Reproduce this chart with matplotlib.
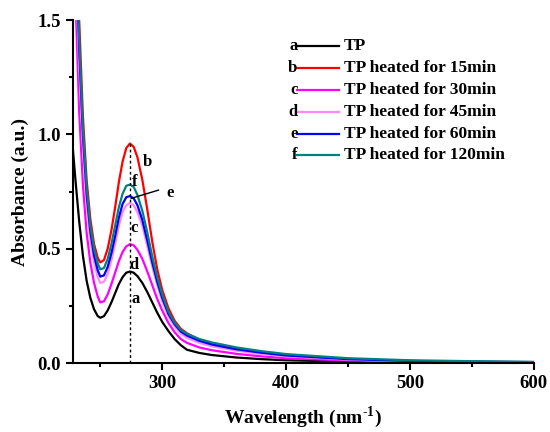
import matplotlib
matplotlib.use("Agg")
import matplotlib.pyplot as plt

plt.rcParams['font.family'] = ['Liberation Serif', 'DejaVu Serif']
plt.rcParams['font.weight'] = 'bold'
plt.rcParams['mathtext.fontset'] = 'custom'
plt.rcParams['mathtext.rm'] = 'Liberation Serif:bold'

# wavelength grid (nm)
wl = [228, 230, 233, 236, 239, 242, 245, 248, 250, 253, 256, 259, 262, 265, 268, 271,
      274, 277, 280, 284, 288, 292, 296, 300, 305, 310, 315, 320, 330, 340, 360, 380,
      400, 450, 500, 550, 600]

tp = [0.93, 0.80, 0.62, 0.47, 0.36, 0.285, 0.235, 0.205, 0.198, 0.205, 0.23, 0.265, 0.305,
      0.345, 0.375, 0.395, 0.40, 0.395, 0.38, 0.35, 0.31, 0.265, 0.22, 0.18, 0.14, 0.105,
      0.078, 0.058, 0.044, 0.035, 0.024, 0.017, 0.012, 0.006, 0.003, 0.002, 0.001]
tp15 = [2.6, 2.1, 1.5, 1.08, 0.80, 0.63, 0.52, 0.46, 0.44, 0.45, 0.50, 0.58, 0.68, 0.79,
        0.88, 0.94, 0.96, 0.945, 0.90, 0.80, 0.67, 0.53, 0.41, 0.32, 0.24, 0.185, 0.15,
        0.13, 0.10, 0.084, 0.062, 0.046, 0.034, 0.017, 0.009, 0.005, 0.003]
tp30 = [2.0, 1.6, 1.1, 0.78, 0.57, 0.44, 0.35, 0.29, 0.265, 0.27, 0.30, 0.345, 0.395,
        0.445, 0.485, 0.51, 0.52, 0.515, 0.495, 0.455, 0.40, 0.34, 0.28, 0.23, 0.175,
        0.135, 0.105, 0.088, 0.068, 0.056, 0.04, 0.029, 0.021, 0.011, 0.006, 0.004, 0.002]
tp45 = [2.2, 1.8, 1.3, 0.95, 0.70, 0.54, 0.44, 0.375, 0.35, 0.355, 0.39, 0.45, 0.52, 0.60,
        0.66, 0.69, 0.70, 0.69, 0.66, 0.60, 0.51, 0.42, 0.34, 0.27, 0.205, 0.16, 0.128,
        0.11, 0.088, 0.073, 0.054, 0.04, 0.029, 0.015, 0.008, 0.005, 0.003]
tp60 = [2.3, 1.9, 1.38, 1.0, 0.74, 0.575, 0.47, 0.405, 0.378, 0.383, 0.42, 0.48, 0.555,
        0.635, 0.695, 0.725, 0.73, 0.72, 0.69, 0.625, 0.535, 0.44, 0.355, 0.285, 0.215,
        0.17, 0.138, 0.12, 0.097, 0.081, 0.06, 0.045, 0.033, 0.017, 0.009, 0.006, 0.004]
tp120 = [2.4, 1.95, 1.42, 1.03, 0.77, 0.60, 0.50, 0.435, 0.41, 0.415, 0.455, 0.52, 0.60,
         0.68, 0.74, 0.775, 0.78, 0.77, 0.735, 0.665, 0.57, 0.465, 0.375, 0.30, 0.225,
         0.177, 0.145, 0.128, 0.105, 0.09, 0.068, 0.052, 0.039, 0.021, 0.012, 0.008, 0.005]

series = [tp, tp15, tp30, tp45, tp60, tp120]
letters = ['a', 'b', 'c', 'd', 'e', 'f']
labels = ['TP', 'TP heated for 15min', 'TP heated for 30min', 'TP heated for 45min',
          'TP heated for 60min', 'TP heated for 120min']
colors = ['#000000', '#ff0000', '#ff00ff', '#ff88ff', '#0000ff', '#008080']

fig = plt.figure(figsize=(5.5, 4.32), dpi=100)
ax = fig.add_axes([0.1327, 0.1597, 0.838, 0.794])

for y, c in zip(series, colors):
    ax.plot(wl, y, color=c, lw=1.6)

# peak marker
ax.plot([274, 274], [0, 0.96], color='black', ls=(0, (2, 2)), lw=1)

# curve letters
fs = 12
ax.text(288, 0.88, 'b', fontsize=fs, ha='center', va='center')
ax.text(277.5, 0.79, 'f', fontsize=fs, ha='center', va='center')
ax.text(306, 0.745, 'e', fontsize=fs, ha='center', va='center')
ax.plot([275, 297], [0.72, 0.756], color='black', lw=1)
ax.text(277, 0.59, 'c', fontsize=fs, ha='center', va='center')
ax.text(277, 0.43, 'd', fontsize=fs, ha='center', va='center')
ax.text(278.5, 0.28, 'a', fontsize=fs, ha='center', va='center')

# legend
for i in range(6):
    yy = 0.924 - 0.0638 * i
    ax.text(0.487, yy, letters[i], transform=ax.transAxes, fontsize=fs,
            ha='right', va='center')
    ax.plot([0.485, 0.578], [yy, yy], transform=ax.transAxes, color=colors[i], lw=1.6)
    ax.text(0.587, yy, labels[i], transform=ax.transAxes, fontsize=12.5,
            ha='left', va='center')

ax.set_xlim(228, 600)
ax.set_ylim(0, 1.5)
ax.set_xticks([300, 400, 500, 600])
ax.set_xticks([250, 350, 450, 550], minor=True)
ax.set_yticks([0.0, 0.5, 1.0, 1.5])
ax.set_yticks([0.25, 0.75, 1.25], minor=True)
ax.set_yticklabels(['0.0', '0.5', '1.0', '1.5'])
ax.spines['top'].set_visible(False)
ax.spines['right'].set_visible(False)
for s in ['left', 'bottom']:
    ax.spines[s].set_linewidth(1.5)
ax.tick_params(which='major', direction='out', length=5, width=1.5, labelsize=13.5)
ax.tick_params(which='minor', direction='out', length=3, width=1.5)

ax.set_xlabel('Wavelength (nm$^{\\text{-1}}$)', fontsize=14, fontweight='bold', labelpad=9)
ax.set_ylabel('Absorbance (a.u.)', fontsize=14, fontweight='bold', labelpad=6)

fig.savefig('out.png', dpi=100)
